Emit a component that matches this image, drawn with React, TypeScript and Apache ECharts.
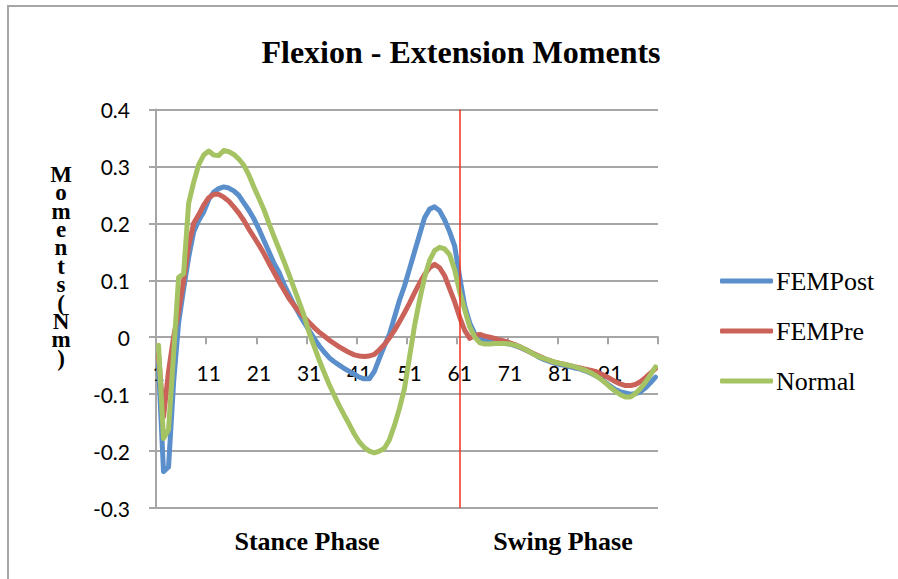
import React, { useEffect, useRef } from "react";
import * as echarts from "echarts";

const categories: string[] = Array.from({ length: 100 }, (_, i) => String(i + 1));

const femPost = [
  -0.05, -0.236, -0.228, -0.08, 0.025, 0.085, 0.14, 0.185, 0.205, 0.22,
  0.242, 0.255, 0.261, 0.264, 0.262, 0.257, 0.249, 0.236, 0.223, 0.208,
  0.19, 0.17, 0.15, 0.13, 0.114, 0.093, 0.075, 0.057, 0.041, 0.026,
  0.012, -0.002, -0.015, -0.026, -0.036, -0.043, -0.049, -0.055, -0.06, -0.065,
  -0.07, -0.073, -0.073, -0.06, -0.037, -0.015, 0.005, 0.035, 0.065, 0.09,
  0.12, 0.15, 0.18, 0.21, 0.225, 0.229, 0.222, 0.206, 0.185, 0.16,
  0.105, 0.055, 0.025, 0.006, -0.002, -0.006, -0.008, -0.009, -0.01, -0.011,
  -0.012, -0.015, -0.018, -0.022, -0.026, -0.031, -0.036, -0.04, -0.043, -0.046,
  -0.048, -0.05, -0.052, -0.054, -0.056, -0.059, -0.063, -0.067, -0.072, -0.079,
  -0.086, -0.092, -0.096, -0.098, -0.1, -0.099, -0.096, -0.089, -0.08, -0.07,
];

const femPre = [
  -0.03, -0.14, -0.06, 0.0, 0.045, 0.1, 0.16, 0.2, 0.215, 0.232,
  0.245, 0.251, 0.251, 0.246, 0.239, 0.229, 0.218, 0.205, 0.19, 0.176,
  0.162, 0.147, 0.13, 0.114, 0.098, 0.083, 0.068, 0.056, 0.045, 0.035,
  0.026, 0.017, 0.009, 0.002, -0.005, -0.011, -0.017, -0.022, -0.027, -0.031,
  -0.033, -0.034, -0.033, -0.03, -0.022, -0.013, -0.001, 0.012, 0.027, 0.043,
  0.06, 0.078, 0.095, 0.11, 0.122, 0.128, 0.122, 0.108, 0.085, 0.062,
  0.035, 0.012, -0.002, 0.003, 0.005, 0.002, 0.0, -0.002, -0.005, -0.007,
  -0.01, -0.013, -0.017, -0.021, -0.026, -0.03, -0.034, -0.038, -0.041, -0.044,
  -0.046, -0.048, -0.05, -0.052, -0.054, -0.056, -0.058, -0.06, -0.064, -0.068,
  -0.073, -0.078, -0.082, -0.085, -0.085, -0.083, -0.078, -0.071, -0.063, -0.055,
];

const normal = [
  -0.014, -0.178, -0.162, -0.03, 0.105, 0.112, 0.235, 0.272, 0.303, 0.32,
  0.327, 0.32, 0.319, 0.328, 0.326, 0.321, 0.313, 0.302, 0.285, 0.264,
  0.244, 0.224, 0.2, 0.177, 0.155, 0.133, 0.11, 0.086, 0.062, 0.038,
  0.008, -0.016, -0.04, -0.062, -0.083, -0.102, -0.12, -0.137, -0.153, -0.17,
  -0.184, -0.194, -0.2, -0.203, -0.2, -0.195, -0.18, -0.155, -0.125, -0.09,
  -0.035, 0.02, 0.065, 0.105, 0.135, 0.152, 0.158, 0.155, 0.145, 0.118,
  0.08, 0.048, 0.018, 0.0, -0.01, -0.012, -0.012, -0.011, -0.011, -0.011,
  -0.012, -0.014, -0.017, -0.021, -0.026, -0.031, -0.035, -0.038, -0.041, -0.044,
  -0.046, -0.048, -0.05, -0.052, -0.055, -0.058, -0.062, -0.067, -0.073, -0.08,
  -0.088, -0.095, -0.101, -0.105, -0.105, -0.099, -0.09, -0.079, -0.066, -0.052,
];

const seriesNames = ["FEMPost", "FEMPre", "Normal"];
const seriesColors = ["#5a8fcb", "#cb6259", "#a5c363"];
const phaseBoundary = 59.5; // boundary between stance (1-60) and swing (61-100)
const phaseLabels = ["Stance Phase", "Swing Phase"];
const yAxisTitle = "Moments (Nm)";
const chartTitle = "Flexion - Extension Moments";
const yMin = -0.3;
const yMax = 0.4;
const yStep = 0.1;

const GRID_COLOR = "#a6a6a6";
const SANS = "Lato";
const SERIF = "Liberation Serif";

const GRID_LEFT = 156;
const GRID_TOP = 109.5;
const GRID_W = 502;
const GRID_H = 398.5;

export default function App() {
  const ref = useRef<HTMLDivElement>(null);

  useEffect(() => {
    if (!ref.current) return;
    const chart = echarts.init(ref.current, undefined, { renderer: "svg" });
    const data = [femPost, femPre, normal];

    const stackedTitle = yAxisTitle.replace(/\s+/g, "").split("").join("\n");
    // x axis crosses the value axis at zero (Excel style)
    const zeroOffset = -GRID_H * ((0 - yMin) / (yMax - yMin));

    chart.setOption({
      animation: false,
      backgroundColor: "#ffffff",
      title: {
        text: chartTitle,
        left: 456,
        top: 31,
        textAlign: "center",
        textStyle: { fontFamily: SERIF, fontWeight: "bold", fontSize: 32, color: "#000" },
      },
      legend: {
        orient: "vertical",
        left: 715,
        top: 263,
        itemWidth: 53,
        itemHeight: 5,
        itemGap: 24,
        icon: "roundRect",
        data: seriesNames,
        textStyle: { fontFamily: SERIF, fontSize: 26, color: "#000", padding: [0, 0, 0, -2] },
      },
      grid: { left: GRID_LEFT, top: GRID_TOP, width: GRID_W, height: GRID_H, containLabel: false },
      xAxis: {
        type: "category",
        data: categories,
        boundaryGap: true,
        position: "bottom",
        offset: zeroOffset,
        axisLine: { show: true, onZero: false, lineStyle: { color: GRID_COLOR, width: 2 } },
        axisTick: { show: true, interval: 9, length: 7, lineStyle: { color: GRID_COLOR, width: 2 } },
        axisLabel: {
          interval: 9,
          margin: 25,
          fontFamily: SANS,
          fontSize: 21,
          color: "#000",
        },
        splitLine: { show: false },
      },
      yAxis: {
        type: "value",
        min: yMin,
        max: yMax,
        interval: yStep,
        axisLine: { show: true, lineStyle: { color: GRID_COLOR, width: 2 } },
        axisTick: { show: true, length: 7, lineStyle: { color: GRID_COLOR, width: 2 } },
        axisLabel: {
          margin: 26,
          fontFamily: SANS,
          fontSize: 21,
          color: "#000",
          formatter: (v: number) => String(Math.round(v * 10) / 10),
        },
        splitLine: { show: true, lineStyle: { color: GRID_COLOR, width: 2 } },
      },
      series: seriesNames.map((name, k) => ({
        name,
        type: "line",
        data: data[k],
        symbol: "none",
        smooth: false,
        lineStyle: { color: seriesColors[k], width: 5, cap: "round", join: "round" },
        itemStyle: { color: seriesColors[k] },
        markLine:
          k === 0
            ? {
                silent: true,
                symbol: ["none", "none"],
                label: { show: false },
                lineStyle: { color: "#f4321e", width: 1.5, type: "solid" },
                data: [{ xAxis: phaseBoundary }],
              }
            : undefined,
      })),
      graphic: [
        {
          type: "rect",
          silent: true,
          z: -10,
          shape: { x: 8, y: 6, width: 1000, height: 1000 },
          style: { fill: "none", stroke: GRID_COLOR, lineWidth: 2 },
        },
        {
          type: "text",
          x: 61,
          y: 165,
          style: {
            text: stackedTitle,
            fontFamily: SERIF,
            fontWeight: "bold",
            fontSize: 23,
            lineHeight: 18.4,
            textAlign: "center",
            textVerticalAlign: "top",
            fill: "#000",
          },
        },
        {
          type: "text",
          x: 307,
          y: 541,
          style: {
            text: phaseLabels[0],
            fontFamily: SERIF,
            fontWeight: "bold",
            fontSize: 26,
            textAlign: "center",
            textVerticalAlign: "middle",
            fill: "#000",
          },
        },
        {
          type: "text",
          x: 563,
          y: 541,
          style: {
            text: phaseLabels[1],
            fontFamily: SERIF,
            fontWeight: "bold",
            fontSize: 26,
            textAlign: "center",
            textVerticalAlign: "middle",
            fill: "#000",
          },
        },
      ],
    });

    return () => chart.dispose();
  }, []);

  return (
    <div
      ref={ref}
      style={{ position: "fixed", left: 0, top: 0, width: 898, height: 579, background: "#fff" }}
    />
  );
}
